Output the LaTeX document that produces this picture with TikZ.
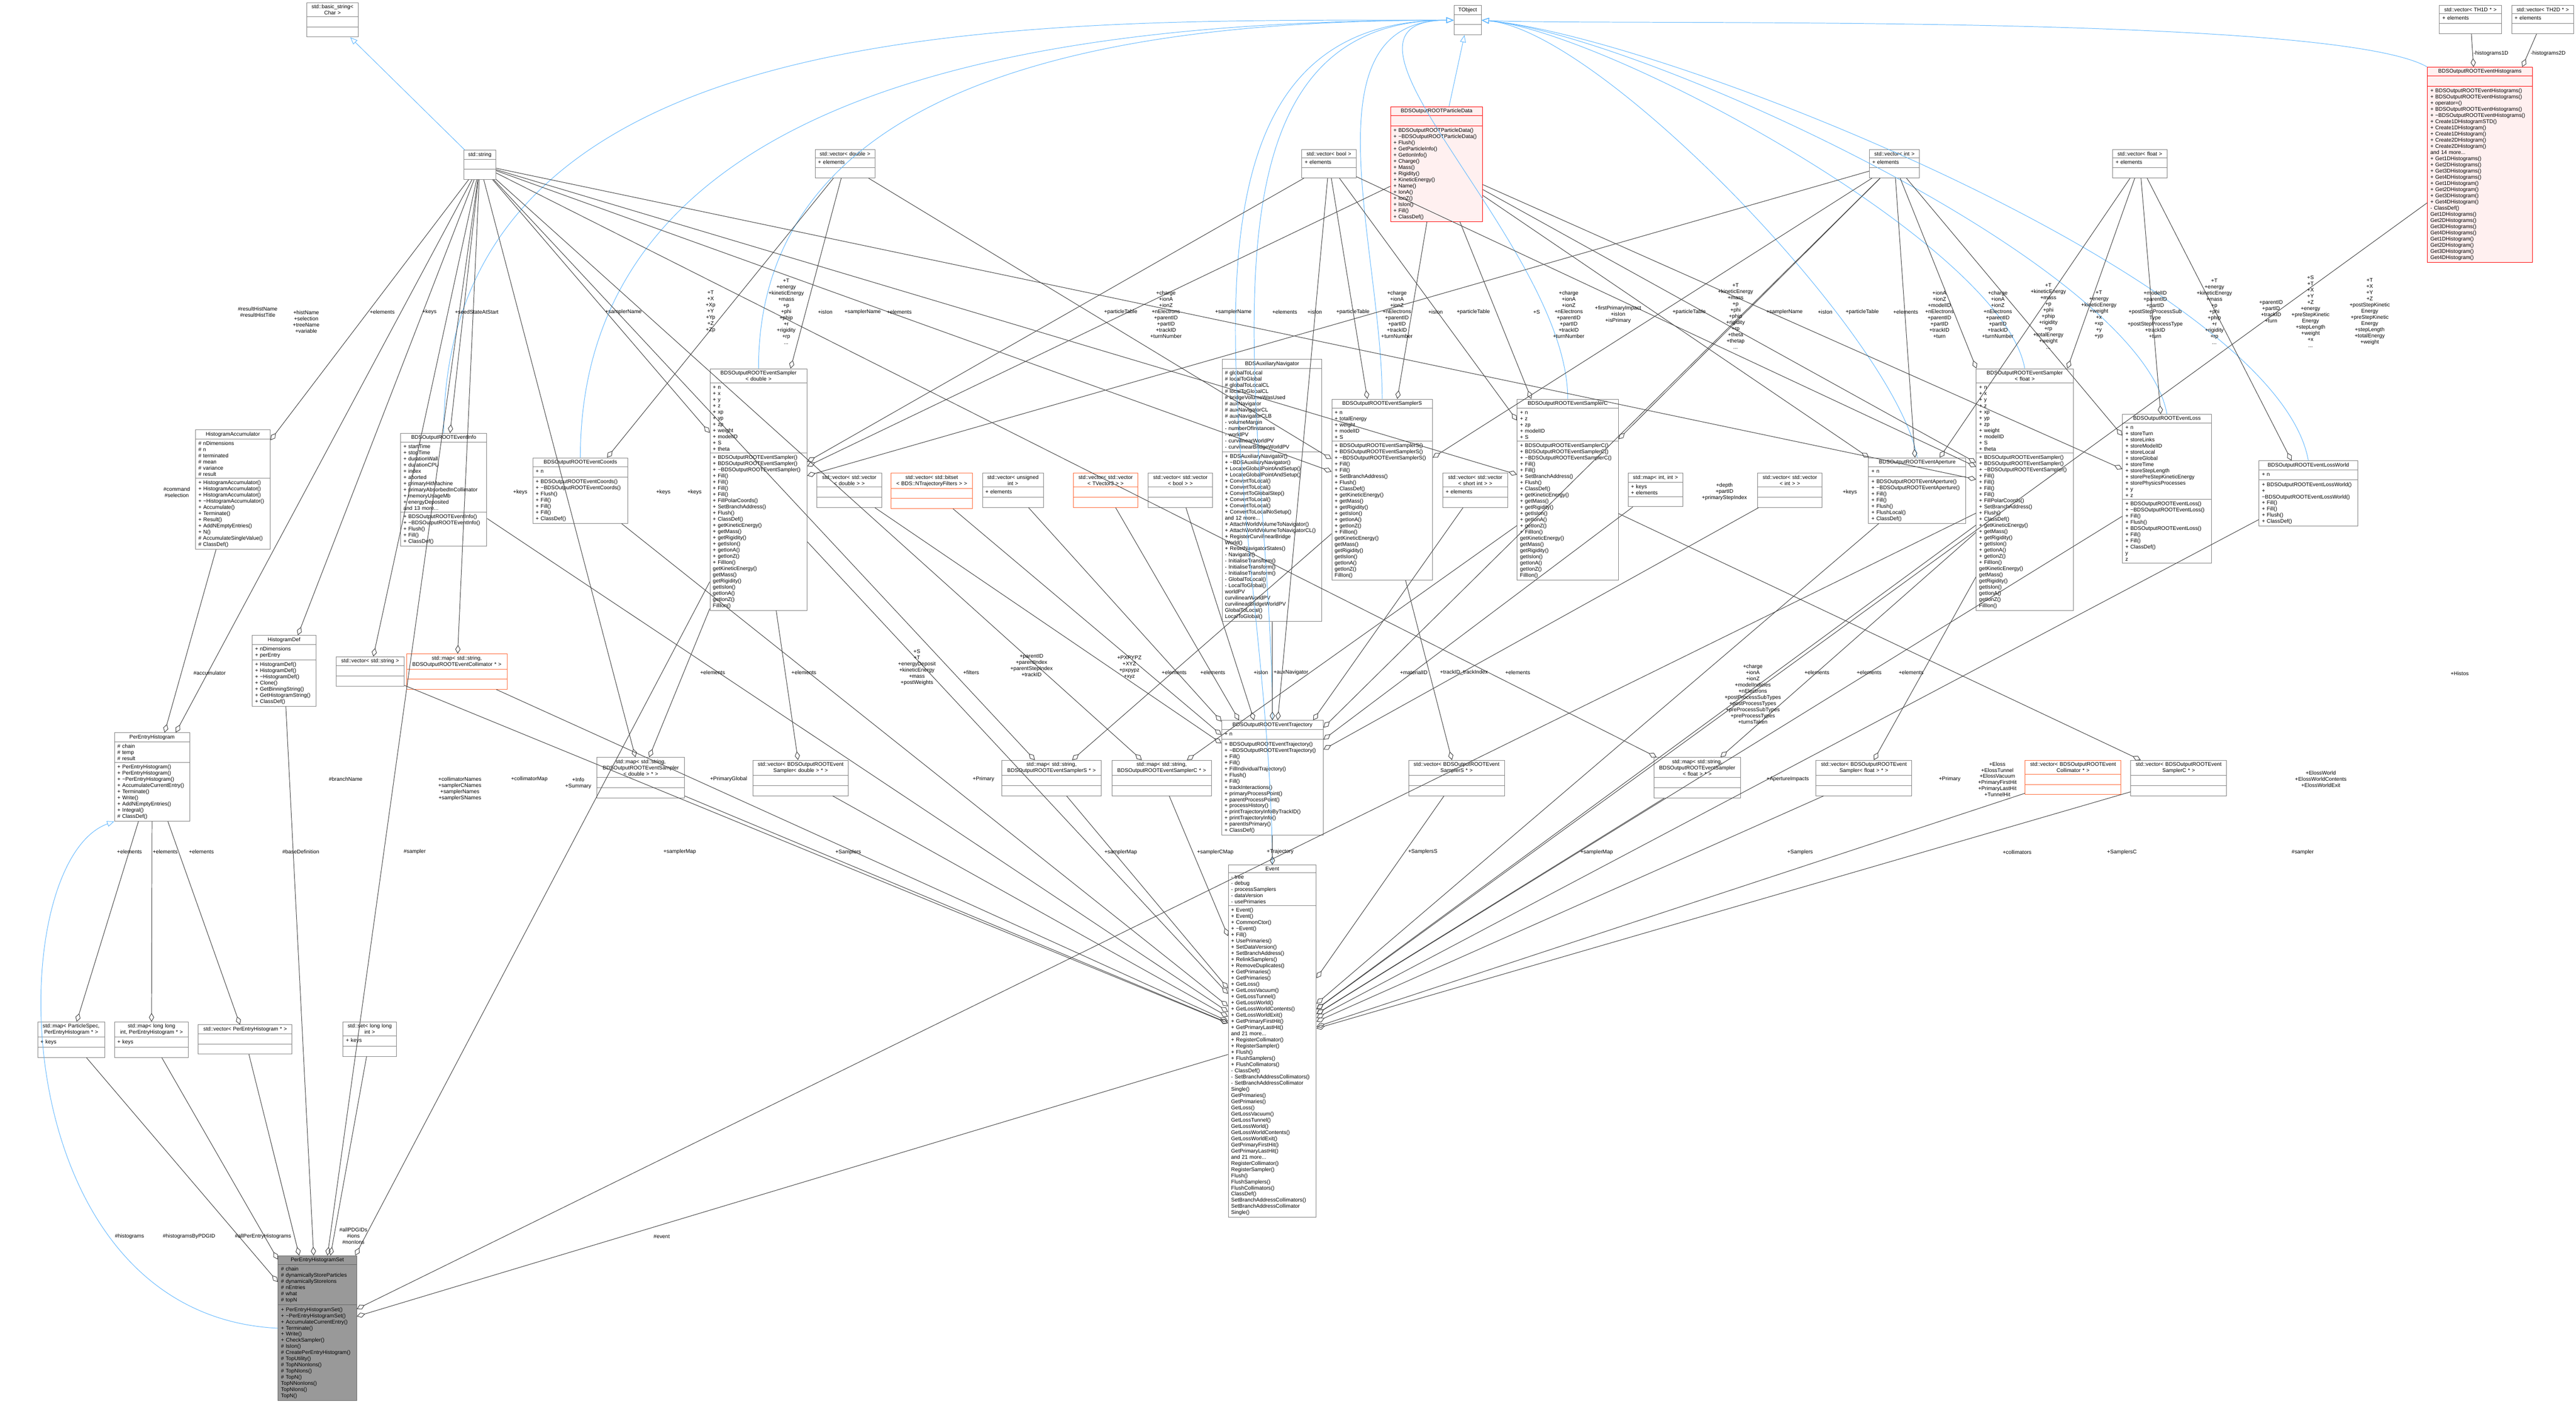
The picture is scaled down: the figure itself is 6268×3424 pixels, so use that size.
\documentclass[tikz,border=0pt]{standalone}
\usepackage{fontspec}
\setmainfont{Liberation Sans}
\usetikzlibrary{shapes.multipart, arrows.meta, positioning}

\definecolor{edgegray}{HTML}{404040}
\definecolor{inhblue}{HTML}{63B8FF}
\definecolor{boxgray}{HTML}{808080}
\definecolor{redbord}{HTML}{FF0000}
\definecolor{redfill}{HTML}{FFF0F0}
\definecolor{orangebord}{HTML}{FF6633}
\definecolor{setfill}{HTML}{999999}
\definecolor{setbord}{HTML}{666666}

\newcommand{\tld}{\textasciitilde}
% one class box: style, name, x, y, width, title, attributes, methods
\newcommand{\umlbox}[8][]{%
  \pgfmathsetlengthmacro\boxw{#5*0.01cm-4pt}%
  \node[umlcls,#1,text width=\boxw] (#2) at (#3,#4)
    {{\centering #6\par}\nodepart{two}\raggedright\strut #7\nodepart{three}\raggedright\strut #8};}
\newcommand{\getters}{+ getKineticEnergy()\\+ getMass()\\+ getRigidity()\\+ getIsIon()\\+ getIonA()\\+ getIonZ()\\+ FillIon()\\* getKineticEnergy()\\* getMass()\\* getRigidity()\\* getIsIon()\\* getIonA()\\* getIonZ()\\* FillIon()}
\newcommand{\chargelist}{+charge\\+ionA\\+ionZ\\+nElectrons\\+parentID\\+partID\\+trackID\\+turnNumber}

\begin{document}
\begin{tikzpicture}[
    x=0.01cm, y=-0.01cm,
    font=\fontsize{3.7}{4.27}\selectfont,
    umlcls/.style={rectangle split, rectangle split parts=3, draw=boxgray, line width=0.35pt,
        anchor=north west, inner xsep=2pt, inner ysep=1.2pt, fill=white, align=left},
    redcls/.style={draw=redbord, fill=redfill},
    orangecls/.style={draw=orangebord},
    setcls/.style={draw=setbord, fill=setfill},
    lbl/.style={inner sep=0pt, align=center},
    agg/.style={draw=edgegray, line width=0.35pt, -{Diamond[open,length=6pt,width=3.6pt]}},
    inh/.style={draw=inhblue, line width=0.35pt, -{Triangle[open,length=5pt,width=4pt]}}
]
    \useasboundingbox (0,0) rectangle (6268,3424);

    % top row
    \umlbox{basicstr}{746}{6}{125}{std::basic\_string<\\Char >}{}{}
    \umlbox{string}{1128}{365}{78}{std::string}{}{}
    \umlbox{tobject}{3537}{13}{67}{TObject}{}{}
    \umlbox[redcls]{particle}{3383}{259}{224}{BDSOutputROOTParticleData}{}{+ BDSOutputROOTParticleData()\\+ \tld BDSOutputROOTParticleData()\\+ Flush()\\+ GetParticleInfo()\\+ GetIonInfo()\\+ Charge()\\+ Mass()\\+ Rigidity()\\+ KineticEnergy()\\+ Name()\\+ IonA()\\+ IonZ()\\+ IsIon()\\+ Fill()\\+ ClassDef()}
    \umlbox{vecdouble}{1983}{364}{145}{std::vector< double >}{+ elements}{}
    \umlbox{vecbool}{3167}{364}{132}{std::vector< bool >}{+ elements}{}
    \umlbox{vecint}{4548}{364}{122}{std::vector< int >}{+ elements}{}
    \umlbox{vecfloat}{5140}{364}{132}{std::vector< float >}{+ elements}{}
    \umlbox{thoned}{5935}{13}{151}{std::vector< TH1D * >}{+ elements}{}
    \umlbox{thtwod}{6111}{13}{151}{std::vector< TH2D * >}{+ elements}{}
    \umlbox[redcls]{histos}{5906}{163}{255}{BDSOutputROOTEventHistograms}{}{+ BDSOutputROOTEventHistograms()\\+ BDSOutputROOTEventHistograms()\\+ operator=()\\+ BDSOutputROOTEventHistograms()\\+ \tld BDSOutputROOTEventHistograms()\\+ Create1DHistogramSTD()\\+ Create1DHistogram()\\+ Create1DHistogram()\\+ Create2DHistogram()\\+ Create2DHistogram()\\and 14 more...\\+ Get1DHistograms()\\+ Get2DHistograms()\\+ Get3DHistograms()\\+ Get4DHistograms()\\+ Get1DHistogram()\\+ Get2DHistogram()\\+ Get3DHistogram()\\+ Get4DHistogram()\\- ClassDef()\\* Get1DHistograms()\\* Get2DHistograms()\\* Get3DHistograms()\\* Get4DHistograms()\\* Get1DHistogram()\\* Get2DHistogram()\\* Get3DHistogram()\\* Get4DHistogram()}

    % middle row
    \umlbox{accum}{475}{1046}{182}{HistogramAccumulator}{\# nDimensions\\\# n\\\# terminated\\\# mean\\\# variance\\\# result}{+ HistogramAccumulator()\\+ HistogramAccumulator()\\+ HistogramAccumulator()\\+ \tld HistogramAccumulator()\\+ Accumulate()\\+ Terminate()\\+ Result()\\+ AddNEmptyEntries()\\+ N()\\\# AccumulateSingleValue()\\\# ClassDef()}
    \umlbox{info}{974}{1054}{210}{BDSOutputROOTEventInfo}{+ startTime\\+ stopTime\\+ durationWall\\+ durationCPU\\+ index\\+ aborted\\+ primaryHitMachine\\+ primaryAbsorbedInCollimator\\+ memoryUsageMb\\+ energyDeposited\\and 13 more...}{+ BDSOutputROOTEventInfo()\\+ \tld BDSOutputROOTEventInfo()\\+ Flush()\\+ Fill()\\+ ClassDef()}
    \umlbox{coords}{1296}{1114}{231}{BDSOutputROOTEventCoords}{+ n}{+ BDSOutputROOTEventCoords()\\+ \tld BDSOutputROOTEventCoords()\\+ Flush()\\+ Fill()\\+ Fill()\\+ Fill()\\+ ClassDef()}
    \umlbox{sampd}{1727}{897}{236}{BDSOutputROOTEventSampler\\< double >}{+ n\\+ x\\+ y\\+ z\\+ xp\\+ yp\\+ zp\\+ weight\\+ modelID\\+ S\\+ theta}{+ BDSOutputROOTEventSampler()\\+ BDSOutputROOTEventSampler()\\+ \tld BDSOutputROOTEventSampler()\\+ Fill()\\+ Fill()\\+ Fill()\\+ Fill()\\+ FillPolarCoords()\\+ SetBranchAddress()\\+ Flush()\\+ ClassDef()\\\getters}
    \umlbox{vvdouble}{1987}{1151}{158}{std::vector< std::vector\\< double > >}{}{}
    \umlbox[orangecls]{bitset}{2168}{1151}{197}{std::vector< std::bitset\\< BDS::NTrajectoryFilters > >}{}{}
    \umlbox{vuint}{2390}{1151}{148}{std::vector< unsigned\\int >}{+ elements}{}
    \umlbox[orangecls]{vvtvec}{2611}{1151}{157}{std::vector< std::vector\\< TVector3 > >}{}{}
    \umlbox{vvbool}{2793}{1151}{157}{std::vector< std::vector\\< bool > >}{}{}
    \umlbox{auxnav}{2973}{874}{243}{BDSAuxiliaryNavigator}{\# globalToLocal\\\# localToGlobal\\\# globalToLocalCL\\\# localToGlobalCL\\\# bridgeVolumeWasUsed\\\# auxNavigator\\\# auxNavigatorCL\\\# auxNavigatorCLB\\- volumeMargin\\- numberOfInstances\\- worldPV\\- curvilinearWorldPV\\- curvilinearBridgeWorldPV}{+ BDSAuxiliaryNavigator()\\+ \tld BDSAuxiliaryNavigator()\\+ LocateGlobalPointAndSetup()\\+ LocateGlobalPointAndSetup()\\+ ConvertToLocal()\\+ ConvertToLocal()\\+ ConvertToGlobalStep()\\+ ConvertToLocal()\\+ ConvertToLocal()\\+ ConvertToLocalNoSetup()\\and 12 more...\\+ AttachWorldVolumeToNavigator()\\+ AttachWorldVolumeToNavigatorCL()\\+ RegisterCurvilinearBridge\\World()\\+ ResetNavigatorStates()\\- Navigator()\\- InitialiseTransform()\\- InitialiseTransform()\\- InitialiseTransform()\\- GlobalToLocal()\\- LocalToGlobal()\\* worldPV\\* curvilinearWorldPV\\* curvilinearBridgeWorldPV\\* GlobalToLocal()\\* LocalToGlobal()}
    \umlbox{samps}{3240}{971}{245}{BDSOutputROOTEventSamplerS}{+ n\\+ totalEnergy\\+ weight\\+ modelID\\+ S}{+ BDSOutputROOTEventSamplerS()\\+ BDSOutputROOTEventSamplerS()\\+ \tld BDSOutputROOTEventSamplerS()\\+ Fill()\\+ Fill()\\+ SetBranchAddress()\\+ Flush()\\+ ClassDef()\\\getters}
    \umlbox{vvshort}{3510}{1151}{158}{std::vector< std::vector\\< short int > >}{+ elements}{}
    \umlbox{sampc}{3691}{971}{246}{BDSOutputROOTEventSamplerC}{+ n\\+ z\\+ zp\\+ modelID\\+ S}{+ BDSOutputROOTEventSamplerC()\\+ BDSOutputROOTEventSamplerC()\\+ \tld BDSOutputROOTEventSamplerC()\\+ Fill()\\+ Fill()\\+ SetBranchAddress()\\+ Flush()\\+ ClassDef()\\\getters}
    \umlbox{mapii}{3961}{1151}{133}{std::map< int, int >}{+ keys\\+ elements}{}
    \umlbox{vvint}{4276}{1151}{157}{std::vector< std::vector\\< int > >}{}{}
    \umlbox{aper}{4546}{1114}{237}{BDSOutputROOTEventAperture}{+ n}{+ BDSOutputROOTEventAperture()\\+ \tld BDSOutputROOTEventAperture()\\+ Fill()\\+ Fill()\\+ Flush()\\+ FlushLocal()\\+ ClassDef()}
    \umlbox{sampf}{4808}{897}{236}{BDSOutputROOTEventSampler\\< float >}{+ n\\+ x\\+ y\\+ z\\+ xp\\+ yp\\+ zp\\+ weight\\+ modelID\\+ S\\+ theta}{+ BDSOutputROOTEventSampler()\\+ BDSOutputROOTEventSampler()\\+ \tld BDSOutputROOTEventSampler()\\+ Fill()\\+ Fill()\\+ Fill()\\+ Fill()\\+ FillPolarCoords()\\+ SetBranchAddress()\\+ Flush()\\+ ClassDef()\\\getters}
    \umlbox{loss}{5164}{1008}{216}{BDSOutputROOTEventLoss}{+ n\\+ storeTurn\\+ storeLinks\\+ storeModelID\\+ storeLocal\\+ storeGlobal\\+ storeTime\\+ storeStepLength\\+ storePreStepKineticEnergy\\+ storePhysicsProcesses\\+ y\\+ z}{+ BDSOutputROOTEventLoss()\\+ \tld BDSOutputROOTEventLoss()\\+ Fill()\\+ Flush()\\+ BDSOutputROOTEventLoss()\\+ Fill()\\+ Fill()\\+ ClassDef()\\* y\\* z}
    \umlbox{lossw}{5496}{1121}{240}{BDSOutputROOTEventLossWorld}{+ n}{+ BDSOutputROOTEventLossWorld()\\+ \tld BDSOutputROOTEventLossWorld()\\+ Fill()\\+ Fill()\\+ Flush()\\+ ClassDef()}

    % lower row
    \umlbox{histdef}{613}{1546}{155}{HistogramDef}{+ nDimensions\\+ perEntry}{+ HistogramDef()\\+ HistogramDef()\\+ \tld HistogramDef()\\+ Clone()\\+ GetBinningString()\\+ GetHistogramString()\\+ ClassDef()}
    \umlbox{vecstr}{817}{1598}{166}{std::vector< std::string >}{}{}
    \umlbox[orangecls]{mapcoll}{989}{1591}{244}{std::map< std::string,\\BDSOutputROOTEventCollimator * >}{}{}
    \umlbox{perentry}{278}{1783}{183}{PerEntryHistogram}{\# chain\\\# temp\\\# result}{+ PerEntryHistogram()\\+ PerEntryHistogram()\\+ \tld PerEntryHistogram()\\+ AccumulateCurrentEntry()\\+ Terminate()\\+ Write()\\+ AddNEmptyEntries()\\+ Integral()\\\# ClassDef()}
    \umlbox{mapsampd}{1452}{1843}{213}{std::map< std::string,\\BDSOutputROOTEventSampler\\< double > * >}{}{}
    \umlbox{vsampd}{1831}{1850}{233}{std::vector< BDSOutputROOTEvent\\Sampler< double > * >}{}{}
    \umlbox{mapsamps}{2437}{1850}{242}{std::map< std::string,\\BDSOutputROOTEventSamplerS * >}{}{}
    \umlbox{mapsampc}{2705}{1850}{242}{std::map< std::string,\\BDSOutputROOTEventSamplerC * >}{}{}
    \umlbox{traj}{2972}{1753}{247}{BDSOutputROOTEventTrajectory}{+ n}{+ BDSOutputROOTEventTrajectory()\\+ \tld BDSOutputROOTEventTrajectory()\\+ Fill()\\+ Fill()\\+ FillIndividualTrajectory()\\+ Flush()\\+ Fill()\\+ trackInteractions()\\+ primaryProcessPoint()\\+ parentProcessPoint()\\+ processHistory()\\+ printTrajectoryInfoByTrackID()\\+ printTrajectoryInfo()\\+ parentIsPrimary()\\+ ClassDef()}
    \umlbox{vsamps}{3427}{1850}{233}{std::vector< BDSOutputROOTEvent\\SamplerS * >}{}{}
    \umlbox{mapsampf}{4024}{1843}{210}{std::map< std::string,\\BDSOutputROOTEventSampler\\< float > * >}{}{}
    \umlbox{vsampf}{4418}{1850}{233}{std::vector< BDSOutputROOTEvent\\Sampler< float > * >}{}{}
    \umlbox[orangecls]{vcoll}{4927}{1850}{233}{std::vector< BDSOutputROOTEvent\\Collimator * >}{}{}
    \umlbox{vsampc}{5184}{1850}{233}{std::vector< BDSOutputROOTEvent\\SamplerC * >}{}{}
    \umlbox{event}{2988}{2105}{214}{Event}{- tree\\- debug\\- processSamplers\\- dataVersion\\- usePrimaries}{+ Event()\\+ Event()\\+ CommonCtor()\\+ \tld Event()\\+ Fill()\\+ UsePrimaries()\\+ SetDataVersion()\\+ SetBranchAddress()\\+ RelinkSamplers()\\+ RemoveDuplicates()\\+ GetPrimaries()\\+ GetPrimaries()\\+ GetLoss()\\+ GetLossVacuum()\\+ GetLossTunnel()\\+ GetLossWorld()\\+ GetLossWorldContents()\\+ GetLossWorldExit()\\+ GetPrimaryFirstHit()\\+ GetPrimaryLastHit()\\and 21 more...\\+ RegisterCollimator()\\+ RegisterSampler()\\+ Flush()\\+ FlushSamplers()\\+ FlushCollimators()\\- ClassDef()\\- SetBranchAddressCollimators()\\- SetBranchAddressCollimator\\Single()\\* GetPrimaries()\\* GetPrimaries()\\* GetLoss()\\* GetLossVacuum()\\* GetLossTunnel()\\* GetLossWorld()\\* GetLossWorldContents()\\* GetLossWorldExit()\\* GetPrimaryFirstHit()\\* GetPrimaryLastHit()\\and 21 more...\\* RegisterCollimator()\\* RegisterSampler()\\* Flush()\\* FlushSamplers()\\* FlushCollimators()\\* ClassDef()\\* SetBranchAddressCollimators()\\* SetBranchAddressCollimator\\Single()}

    % bottom
    \umlbox{mapspec}{91}{2487}{163}{std::map< ParticleSpec,\\PerEntryHistogram * >}{+ keys}{}
    \umlbox{mapll}{278}{2487}{180}{std::map< long long\\int, PerEntryHistogram * >}{+ keys}{}
    \umlbox{vper}{482}{2494}{228}{std::vector< PerEntryHistogram * >}{}{}
    \umlbox{setll}{834}{2487}{130}{std::set< long long\\int >}{+ keys}{}
    \umlbox[setcls]{peset}{676}{3056}{191}{PerEntryHistogramSet}{\# chain\\\# dynamicallyStoreParticles\\\# dynamicallyStoreIons\\\# nEntries\\\# what\\\# topN}{+ PerEntryHistogramSet()\\+ \tld PerEntryHistogramSet()\\+ AccumulateCurrentEntry()\\+ Terminate()\\+ Write()\\+ CheckSampler()\\\# IsIon()\\\# CreatePerEntryHistogram()\\\# TopUtility()\\\# TopNNonIons()\\\# TopNIons()\\\# TopN()\\* TopNNonIons()\\* TopNIons()\\* TopN()}

    % inheritance
    \draw[inh] (string) -- (basicstr);
    \foreach \src in {sampd, samps, sampc, traj, event, info, coords}
        \draw[inh] (\src.north) to[out=90, in=180] (tobject.west);
    \foreach \src in {sampf, aper, loss, lossw}
        \draw[inh] (\src.north) to[out=100, in=-5, looseness=0.5] (tobject.east);
    \draw[inh] (histos.north west) to[out=150, in=-3, looseness=0.3] (tobject.east);
    \draw[inh] (particle) -- (tobject);
    \draw[inh] (peset.west) .. controls (0,3200) and (0,2100) .. (perentry.south west);

    % members
    \foreach \src/\dst in {string/accum, string/histdef, string/perentry, string/vecstr, string/mapcoll, string/info,
        string/sampd, string/samps, string/sampc, string/sampf, string/mapsampd, string/mapsamps, string/mapsampc,
        string/mapsampf, string/peset, accum/perentry, histdef/peset, perentry/mapspec, perentry/mapll, perentry/vper,
        mapspec/peset, mapll/peset, vper/peset, setll/peset, sampd/peset, sampf/peset, event/peset}
        \draw[agg] (\src) -- (\dst);
    \foreach \src in {vecstr, mapcoll, info, coords, mapsampd, vsampd, mapsamps, mapsampc, traj, vsamps, mapsampf,
        vsampf, vcoll, vsampc, aper, loss, lossw, histos, sampd, sampf}
        \draw[agg] (\src) -- (event);
    \foreach \src/\dst in {sampd/mapsampd, sampd/vsampd, samps/mapsamps, samps/vsamps, sampc/mapsampc, sampc/vsampc,
        sampf/mapsampf, sampf/vsampf, thoned/histos, thtwod/histos,
        vecdouble/sampd, vecdouble/coords, vecdouble/samps, vecbool/sampd, vecbool/samps, vecbool/sampc, vecbool/sampf,
        vecint/sampd, vecint/samps, vecint/sampc, vecint/sampf, vecint/aper, vecint/loss,
        vecfloat/sampf, vecfloat/loss, vecfloat/aper, vecfloat/lossw,
        particle/sampd, particle/samps, particle/sampc, particle/sampf, particle/aper, particle/loss,
        vvdouble/traj, bitset/traj, vuint/traj, vvtvec/traj, vvbool/traj, auxnav/traj, vecbool/traj,
        vvshort/traj, mapii/traj, vvint/traj, vecint/traj}
        \draw[agg] (\src) -- (\dst);

    % member labels
    \node[lbl] (lresult) at (627,759) {\#resultHistName\\\#resultHistTitle};
    \node[lbl] (lhist) at (745,783) {+histName\\+selection\\+treeName\\+variable};
    \node[lbl] (lelemstr) at (930,760) {+elements};
    \node[lbl] (lkeyscoll) at (1045,760) {+keys};
    \node[lbl] (lseed) at (1160,760) {+seedStateAtStart};
    \node[lbl] (lsname) at (1517,760) {+samplerName};
    \node[lbl] (lcommand) at (430,1198) {\#command\\\#selection};
    \node[lbl] (lkeysa) at (1266,1198) {+keys};
    \node[lbl] (lkeysb) at (1614,1198) {+keys};
    \node[lbl] (lkeysc) at (1690,1198) {+keys};
    \node[lbl] (lkeysd) at (4501,1198) {+keys};
    \node[lbl] (laccum) at (510,1638) {\#accumulator};
    \node[lbl] (lbranch) at (841,1897) {\#branchName};
    \node[lbl] (lcnames) at (1119,1920) {+collimatorNames\\+samplerCNames\\+samplerNames\\+samplerSNames};
    \node[lbl] (lcmap) at (1288,1897) {+collimatorMap};
    \node[lbl] (linfo) at (1407,1907) {+Info\\+Summary};
    \node[lbl] (lela) at (315,2073) {+elements};
    \node[lbl] (lelb) at (402,2073) {+elements};
    \node[lbl] (lelc) at (490,2073) {+elements};
    \node[lbl] (lbase) at (732,2073) {\#baseDefinition};
    \node[lbl] (lsampler) at (1009,2073) {\#sampler};
    \node[lbl] (lsmapd) at (1654,2073) {+samplerMap};
    \node[lbl] (lhgrams) at (315,3010) {\#histograms};
    \node[lbl] (lhpdg) at (460,3010) {\#histogramsByPDGID};
    \node[lbl] (lallper) at (640,3010) {\#allPerEntryHistograms};
    \node[lbl] (lions) at (860,3008) {\#allPDGIDs\\\#ions\\\#nonIons};
    \node[lbl] (levent) at (1610,3010) {\#event};
    \node[lbl] (lsamplerf) at (5603,2075) {\#sampler};

    % labels above the sampler row
    \node[lbl] (lta) at (1729,758) {+T\\+X\\+Xp\\+Y\\+Yp\\+Z\\+Zp};
    \node[lbl] (ltb) at (1913,758) {+T\\+energy\\+kineticEnergy\\+mass\\+p\\+phi\\+phip\\+r\\+rigidity\\+rp\\...};
    \node[lbl] (lisa) at (2008,760) {+isIon};
    \node[lbl] (lsna) at (2099,760) {+samplerName};
    \node[lbl] (lela1) at (2188,760) {+elements};
    \node[lbl] (lpta) at (2727,760) {+particleTable};
    \node[lbl] (lcha) at (2837,766) {\chargelist};
    \node[lbl] (lsnb) at (3001,760) {+samplerName};
    \node[lbl] (lelb1) at (3126,760) {+elements};
    \node[lbl] (lisb) at (3199,760) {+isIon};
    \node[lbl] (lptb) at (3292,760) {+particleTable};
    \node[lbl] (lchb) at (3399,766) {\chargelist};
    \node[lbl] (lisc) at (3493,760) {+isIon};
    \node[lbl] (lptc) at (3585,760) {+particleTable};
    \node[lbl] (lss) at (3739,760) {+S};
    \node[lbl] (lchc) at (3817,766) {\chargelist};
    \node[lbl] (lfirst) at (3937,766) {+firstPrimaryImpact\\+isIon\\+isPrimary};
    \node[lbl] (lptd) at (4110,760) {+particleTable};
    \node[lbl] (ltc) at (4223,770) {+T\\+kineticEnergy\\+mass\\+p\\+phi\\+phip\\+rigidity\\+rp\\+theta\\+thetap\\...};
    \node[lbl] (lsnc) at (4342,760) {+samplerName};
    \node[lbl] (lisd) at (4441,760) {+isIon};
    \node[lbl] (lpte) at (4531,760) {+particleTable};
    \node[lbl] (lelc1) at (4637,760) {+elements};
    \node[lbl] (lion) at (4719,766) {+ionA\\+ionZ\\+modelID\\+nElectrons\\+parentID\\+partID\\+trackID\\+turn};
    \node[lbl] (lchd) at (4861,766) {\chargelist};
    \node[lbl] (ltd) at (4984,770) {+T\\+kineticEnergy\\+mass\\+p\\+phi\\+phip\\+rigidity\\+rp\\+totalEnergy\\+weight\\...};
    \node[lbl] (lte) at (5107,766) {+T\\+energy\\+kineticEnergy\\+weight\\+x\\+xp\\+y\\+yp};
    \node[lbl] (lmodel) at (5244,766) {+modelID\\+parentID\\+partID\\+postStepProcessSub\\Type\\+postStepProcessType\\+trackID\\+turn};
    \node[lbl] (ltf) at (5388,758) {+T\\+energy\\+kineticEnergy\\+mass\\+p\\+phi\\+phip\\+r\\+rigidity\\+rp\\...};
    \node[lbl] (lpar) at (5526,758) {+parentID\\+partID\\+trackID\\+turn};
    \node[lbl] (ltg) at (5622,758) {+S\\+T\\+X\\+Y\\+Z\\+energy\\+preStepKinetic\\Energy\\+stepLength\\+weight\\+x\\...};
    \node[lbl] (lth) at (5766,758) {+T\\+X\\+Y\\+Z\\+postStepKinetic\\Energy\\+preStepKinetic\\Energy\\+stepLength\\+totalEnergy\\+weight};
    \node[lbl] (lhone) at (6061,130) {-histograms1D};
    \node[lbl] (lhtwo) at (6200,130) {-histograms2D};

    % labels above the trajectory
    \node[lbl] (lel1) at (1734,1637) {+elements};
    \node[lbl] (lel2) at (1956,1637) {+elements};
    \node[lbl] (lsteps) at (2231,1625) {+S\\+T\\+energyDeposit\\+kineticEnergy\\+mass\\+postWeights};
    \node[lbl] (lfilt) at (2363,1637) {+filters};
    \node[lbl] (lparent) at (2510,1620) {+parentID\\+parentIndex\\+parentStepIndex\\+trackID};
    \node[lbl] (lpxyz) at (2748,1625) {+PXPYPZ\\+XYZ\\+pxpypz\\+xyz};
    \node[lbl] (lel3) at (2857,1637) {+elements};
    \node[lbl] (lel4) at (2951,1637) {+elements};
    \node[lbl] (lision) at (3068,1637) {+isIon};
    \node[lbl] (laux) at (3141,1637) {+auxNavigator};
    \node[lbl] (lmat) at (3440,1637) {+materialID};
    \node[lbl] (ltrk) at (3562,1637) {+trackID\_trackIndex};
    \node[lbl] (lel5) at (3693,1637) {+elements};
    \node[lbl] (ldepth) at (4196,1197) {+depth\\+partID\\+primaryStepIndex};
    \node[lbl] (lturns) at (4265,1690) {+charge\\+ionA\\+ionZ\\+modelIndicies\\+nElectrons\\+postProcessSubTypes\\+postProcessTypes\\+preProcessSubTypes\\+preProcessTypes\\+turnsTaken};
    \node[lbl] (lel6) at (4421,1637) {+elements};
    \node[lbl] (lel7) at (4548,1637) {+elements};
    \node[lbl] (lel8) at (4650,1637) {+elements};
    \node[lbl] (lhistos) at (5985,1640) {+Histos};

    % labels above the event
    \node[lbl] (lpglob) at (1773,1897) {+PrimaryGlobal};
    \node[lbl] (lprima) at (2393,1897) {+Primary};
    \node[lbl] (lapimp) at (4350,1897) {+ApertureImpacts};
    \node[lbl] (lprimb) at (4744,1897) {+Primary};
    \node[lbl] (leloss) at (4860,1897) {+Eloss\\+ElossTunnel\\+ElossVacuum\\+PrimaryFirstHit\\+PrimaryLastHit\\+TunnelHit};
    \node[lbl] (lelossw) at (5647,1897) {+ElossWorld\\+ElossWorldContents\\+ElossWorldExit};
    \node[lbl] (lsmpa) at (2064,2075) {+Samplers};
    \node[lbl] (lsmpb) at (2727,2075) {+samplerMap};
    \node[lbl] (lsmpc) at (2957,2075) {+samplerCMap};
    \node[lbl] (ltraj) at (3115,2073) {+Trajectory};
    \node[lbl] (lsmps) at (3462,2073) {+SamplersS};
    \node[lbl] (lsmpd) at (3885,2075) {+samplerMap};
    \node[lbl] (lsmpe) at (4380,2075) {+Samplers};
    \node[lbl] (lcolls) at (4908,2075) {+collimators};
    \node[lbl] (lsmpf) at (5163,2075) {+SamplersC};
\end{tikzpicture}
\end{document}
